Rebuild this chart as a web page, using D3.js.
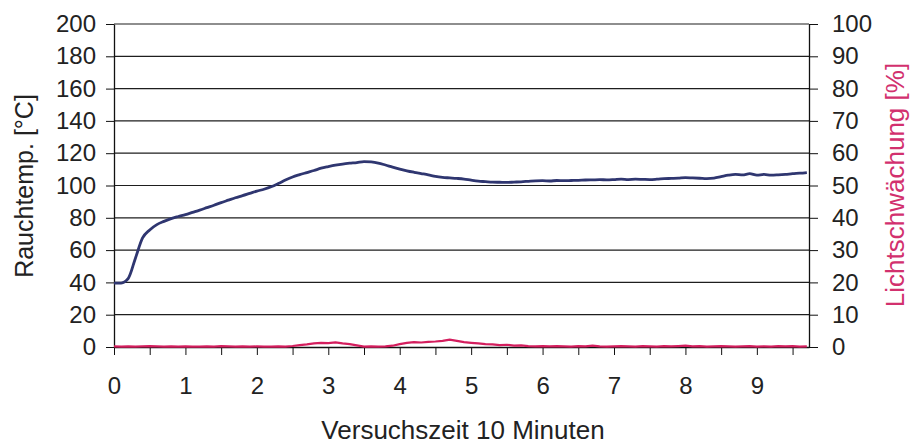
<!DOCTYPE html>
<html>
<head>
<meta charset="utf-8">
<script src="https://cdn.jsdelivr.net/npm/d3@7"></script>
<style>
  html, body { margin: 0; padding: 0; background: #fff; }
  svg { display: block; font-family: "Liberation Sans", Arial, sans-serif; }
  .axis path, .axis line { stroke: #111; }
  .axis text { fill: #222; font-size: 24px; font-family: "Liberation Sans", Arial, sans-serif; }
</style>
</head>
<body>
<svg id="chart" width="916" height="444"></svg>
<script>
// ---- data ----
const timeMin = [0.0,0.1,0.2,0.3,0.4,0.5,0.6,0.7,0.8,0.9,1.0,1.1,1.2,1.3,1.4,1.5,1.6,1.7,1.8,1.9,
  2.0,2.1,2.2,2.3,2.4,2.5,2.6,2.7,2.8,2.9,3.0,3.1,3.2,3.3,3.4,3.5,3.6,3.7,3.8,3.9,
  4.0,4.1,4.2,4.3,4.4,4.5,4.6,4.7,4.8,4.9,5.0,5.1,5.2,5.3,5.4,5.5,5.6,5.7,5.8,5.9,
  6.0,6.1,6.2,6.3,6.4,6.5,6.6,6.7,6.8,6.9,7.0,7.1,7.2,7.3,7.4,7.5,7.6,7.7,7.8,7.9,
  8.0,8.1,8.2,8.3,8.4,8.5,8.6,8.7,8.8,8.9,9.0,9.1,9.2,9.3,9.4,9.5,9.6,9.7];
const rauchtemp = [39.5,39.6,42.5,55,67.5,72.5,75.8,77.8,79.5,80.8,82,83.4,84.8,86.3,87.8,89.4,90.9,92.4,93.7,95.1,
  96.5,97.7,99.2,101.2,103.4,105.3,106.7,108,109.3,110.7,111.7,112.6,113.3,113.8,114.2,114.8,114.6,113.9,112.7,111.4,
  110.2,109.1,108.2,107.4,106.6,105.6,105,104.7,104.4,104,103.3,102.7,102.4,102.1,102,101.9,102.1,102.3,102.6,102.9,
  103,102.8,103.1,103,103.1,103.2,103.4,103.5,103.6,103.5,103.7,104,103.7,103.9,103.8,103.7,103.9,104.2,104.4,104.6,
  104.9,104.7,104.5,104.3,104.6,105.5,106.4,106.9,106.6,107.3,106.4,106.9,106.4,106.6,106.9,107.3,107.6,108];
const lichtschwaechung = [0.2,0.1,0.2,0.1,0.2,0.3,0.2,0.1,0.2,0.1,0.2,0.1,0.1,0.2,0.1,0.3,0.2,0.1,0.2,0.1,
  0.2,0.1,0.1,0.2,0.1,0.3,0.6,0.8,1.1,1.3,1.2,1.4,1.1,0.9,0.5,0.1,0.2,0.1,0.2,0.4,
  0.9,1.3,1.5,1.4,1.6,1.7,1.9,2.3,1.9,1.5,1.3,1.1,0.9,0.8,0.6,0.7,0.4,0.5,0.3,0.2,
  0.3,0.2,0.3,0.2,0.1,0.3,0.2,0.4,0.2,0.1,0.2,0.3,0.2,0.1,0.3,0.2,0.1,0.3,0.2,0.3,
  0.4,0.2,0.3,0.1,0.2,0.3,0.2,0.1,0.2,0.3,0.1,0.2,0.1,0.3,0.2,0.3,0.1,0.2];
const xTicks = [0,0.5,1,1.5,2,2.5,3,3.5,4,4.5,5,5.5,6,6.5,7,7.5,8,8.5,9,9.5];
const xTickLabels = ["0","","1","","2","","3","","4","","5","","6","","7","","8","","9",""];
const leftTicks = [0,20,40,60,80,100,120,140,160,180,200];
const rightTicks = [0,10,20,30,40,50,60,70,80,90,100];
const xDomain = [0, 9.73];
const xTitle = "Versuchszeit 10 Minuten";
const leftTitle = "Rauchtemp. [°C]";
const rightTitle = "Lichtschwächung [%]";

// ---- layout ----
const svg = d3.select("#chart");
const m = { left: 114, right: 916 - 809, top: 24, bottom: 444 - 347 };
const W = 916, H = 444;
const x = d3.scaleLinear().domain(xDomain).range([m.left, W - m.right]);
const yL = d3.scaleLinear().domain([0, 200]).range([H - m.bottom, m.top]);
const yR = d3.scaleLinear().domain([0, 100]).range([H - m.bottom, m.top]);

// gridlines
svg.append("g").selectAll("line").data(leftTicks.filter(d => d > 0)).join("line")
  .attr("x1", m.left).attr("x2", W - m.right)
  .attr("y1", d => yL(d)).attr("y2", d => yL(d))
  .attr("stroke", "#1e1e1e").attr("stroke-width", 1.2);

// axes
const gx = svg.append("g").attr("class", "axis")
  .attr("transform", `translate(0,${H - m.bottom})`)
  .call(d3.axisBottom(x).tickValues(xTicks)
    .tickFormat((d, i) => xTickLabels[i]).tickSizeInner(8).tickSizeOuter(0).tickPadding(22));
gx.select(".domain").attr("stroke-width", 1.3);

const gl = svg.append("g").attr("class", "axis")
  .attr("transform", `translate(${m.left},0)`)
  .call(d3.axisLeft(yL).tickValues(leftTicks).tickSizeInner(8).tickSizeOuter(0).tickPadding(10));
gl.select(".domain").attr("stroke-width", 1.3);

const gr = svg.append("g").attr("class", "axis")
  .attr("transform", `translate(${W - m.right},0)`)
  .call(d3.axisRight(yR).tickValues(rightTicks).tickSizeInner(9).tickSizeOuter(0).tickPadding(14));
gr.select(".domain").attr("stroke-width", 1.3);

// lines
const tempLine = d3.line().x((d, i) => x(timeMin[i])).y(d => yL(d)).curve(d3.curveMonotoneX);
const lightLine = d3.line().x((d, i) => x(timeMin[i])).y(d => yR(d));

svg.append("path").datum(lichtschwaechung)
  .attr("d", lightLine).attr("fill", "none")
  .attr("stroke", "#d41e5e").attr("stroke-width", 2.2);

svg.append("path").datum(rauchtemp)
  .attr("d", tempLine).attr("fill", "none")
  .attr("stroke", "#2f3670").attr("stroke-width", 2.8).attr("stroke-linejoin", "round");

// titles
svg.append("text").attr("x", 463).attr("y", 439)
  .attr("text-anchor", "middle").attr("font-size", 26).attr("fill", "#222")
  .text(xTitle);

svg.append("text").attr("transform", "translate(33,186) rotate(-90)")
  .attr("text-anchor", "middle").attr("font-size", 25).attr("fill", "#222")
  .text(leftTitle);

svg.append("text").attr("transform", "translate(904,185) rotate(-90)")
  .attr("text-anchor", "middle").attr("font-size", 26).attr("fill", "#d2306e")
  .text(rightTitle);
</script>
</body>
</html>
